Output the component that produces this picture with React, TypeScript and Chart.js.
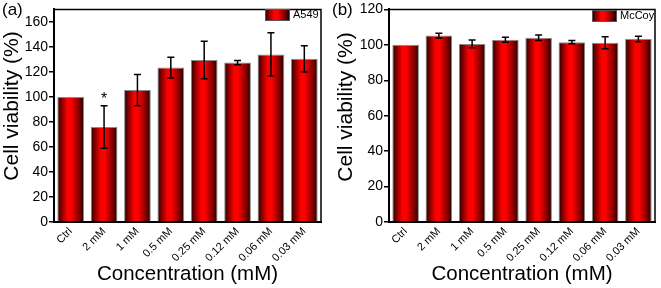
import React, { useEffect, useRef } from "react";
import { Chart, registerables } from "chart.js";

Chart.register(...registerables);

const categories = ["Ctrl", "2 mM", "1 mM", "0.5 mM", "0.25 mM", "0.12 mM", "0.06 mM", "0.03 mM"];

const a549Values = [100, 76, 105.5, 123.5, 129.5, 127.5, 134, 130.5];
const a549Errors = [0, 17, 12.5, 8.3, 15, 1.7, 17.3, 10.5];
const a549Marks = ["", "*", "", "", "", "", "", ""];

const mccoyValues = [100, 105.2, 100.5, 102.9, 104, 101.5, 101.2, 103.3];
const mccoyErrors = [0, 1.4, 2.2, 1.4, 1.6, 0.9, 3.4, 1.6];
const mccoyMarks = ["", "", "", "", "", "", "", ""];

const yTitle = "Cell viability (%)";
const xTitle = "Concentration (mM)";

const FONT = "'Liberation Sans', Arial, sans-serif";

function makeGradient(ctx: CanvasRenderingContext2D, x0: number, x1: number) {
  const g = ctx.createLinearGradient(x0, 0, x1, 0);
  g.addColorStop(0, "#1a0000");
  g.addColorStop(0.12, "#700000");
  g.addColorStop(0.38, "#ff0000");
  g.addColorStop(0.52, "#ff0000");
  g.addColorStop(0.82, "#800000");
  g.addColorStop(1, "#1a0000");
  return g;
}

type PanelProps = {
  width: number;
  height: number;
  values: number[];
  errors: number[];
  marks: string[];
  yMax: number;
  panelLabel: string;
  legendLabel: string;
  yAxisWidth: number;
  padRight: number;
  padTop: number;
  legendX: number;
  legendY: number;
  yTitleX: number;
  yTitleY: number;
};

function Panel(p: PanelProps) {
  const ref = useRef<HTMLCanvasElement | null>(null);
  useEffect(() => {
    const canvas = ref.current;
    if (!canvas) return;
    const extras = {
      id: "extras",
      beforeDatasetsDraw(chart: any) {
        const ctx = chart.ctx as CanvasRenderingContext2D;
        const meta = chart.getDatasetMeta(0);
        meta.data.forEach((bar: any) => {
          const w = bar.width;
          if (isFinite(bar.x) && isFinite(w)) {
            bar.options = Object.assign({}, bar.options, {
              backgroundColor: makeGradient(ctx, bar.x - w / 2, bar.x + w / 2),
            });
          }
        });
      },
      afterDatasetsDraw(chart: any) {
        const ctx = chart.ctx as CanvasRenderingContext2D;
        const ys = chart.scales.y;
        const meta = chart.getDatasetMeta(0);
        ctx.save();
        ctx.strokeStyle = "#000";
        ctx.lineWidth = 1.5;
        meta.data.forEach((bar: any, i: number) => {
          const e = p.errors[i];
          const v = p.values[i];
          const x = bar.x;
          if (e > 0) {
            const yt = ys.getPixelForValue(v + e);
            const yb = ys.getPixelForValue(v - e);
            ctx.beginPath();
            ctx.moveTo(x, yt);
            ctx.lineTo(x, yb);
            ctx.moveTo(x - 3.5, yt);
            ctx.lineTo(x + 3.5, yt);
            ctx.moveTo(x - 3.5, yb);
            ctx.lineTo(x + 3.5, yb);
            ctx.stroke();
          }
          if (p.marks[i]) {
            ctx.fillStyle = "#000";
            ctx.font = `16px ${FONT}`;
            ctx.textAlign = "center";
            ctx.textBaseline = "alphabetic";
            ctx.fillText(p.marks[i], x, ys.getPixelForValue(v + e) - 2);
          }
        });
        const ca = chart.chartArea;
        ctx.strokeStyle = "#000";
        ctx.lineWidth = 1.5;
        ctx.beginPath();
        ctx.moveTo(ca.left, ca.top);
        ctx.lineTo(ca.right, ca.top);
        ctx.lineTo(ca.right, ca.bottom);
        ctx.stroke();
        const lx = p.legendX;
        const ly = p.legendY;
        ctx.fillStyle = makeGradient(ctx, lx, lx + 24);
        ctx.fillRect(lx, ly, 24, 11);
        ctx.strokeStyle = "#555";
        ctx.lineWidth = 1;
        ctx.strokeRect(lx + 0.5, ly + 0.5, 24, 11);
        ctx.fillStyle = "#000";
        ctx.font = `11px ${FONT}`;
        ctx.textAlign = "left";
        ctx.textBaseline = "middle";
        ctx.fillText(p.legendLabel, lx + 28, ly + 6);
        ctx.font = `17px ${FONT}`;
        ctx.textBaseline = "top";
        ctx.fillText(p.panelLabel, 2, 2);
        // y axis title
        ctx.save();
        ctx.translate(p.yTitleX, p.yTitleY);
        ctx.rotate(-Math.PI / 2);
        ctx.font = `21px ${FONT}`;
        ctx.textAlign = "center";
        ctx.textBaseline = "alphabetic";
        ctx.fillText(yTitle, 0, 0);
        ctx.restore();
        ctx.restore();
      },
    };
    const chart = new Chart(canvas, {
      type: "bar",
      data: {
        labels: categories,
        datasets: [
          {
            label: p.legendLabel,
            data: p.values,
            backgroundColor: "#ff0000",
            borderColor: "#8a8a8a",
            borderWidth: 1,
            categoryPercentage: 1,
            barPercentage: 0.8,
          },
        ],
      },
      options: {
        animation: false,
        responsive: false,
        devicePixelRatio: 1,
        layout: { padding: { left: 0, right: p.padRight, top: p.padTop, bottom: 0 } },
        plugins: { legend: { display: false }, tooltip: { enabled: false } },
        scales: {
          x: {
            grid: { display: false, drawTicks: false },
            border: { display: true, color: "#000", width: 2 },
            ticks: {
              minRotation: 45,
              maxRotation: 45,
              padding: 3,
              color: "#000",
              font: { family: FONT, size: 11 },
              autoSkip: false,
            },
            title: {
              display: true,
              text: xTitle,
              color: "#000",
              font: { family: FONT, size: 20.5 },
              padding: { top: 0, bottom: 1 },
            },
            afterFit: (s: any) => {
              s.height = 66;
            },
          },
          y: {
            min: 0,
            max: p.yMax,
            grid: { drawOnChartArea: false, drawTicks: true, tickLength: 5, color: "#000", lineWidth: 1.5 },
            border: { display: true, color: "#000", width: 2 },
            ticks: {
              stepSize: 20,
              includeBounds: false,
              padding: 1,
              color: "#000",
              font: { family: FONT, size: 14 },
            },
            title: { display: false },
            afterFit: (s: any) => {
              s.width = p.yAxisWidth;
            },
          },
        },
      },
      plugins: [extras],
    } as any);
    return () => chart.destroy();
  }, []);
  return <canvas ref={ref} width={p.width} height={p.height} style={{ display: "block", width: p.width, height: p.height }} />;
}

export default function App() {
  return (
    <div style={{ position: "fixed", left: 0, top: 0, width: 661, height: 288, background: "#fff", display: "flex" }}>
      <Panel
        width={330}
        height={288}
        values={a549Values}
        errors={a549Errors}
        marks={a549Marks}
        yMax={170}
        panelLabel="(a)"
        legendLabel="A549"
        yAxisWidth={54}
        padRight={9}
        padTop={6}
        legendX={265}
        legendY={9}
        yTitleX={18}
        yTitleY={106}
      />
      <Panel
        width={331}
        height={288}
        values={mccoyValues}
        errors={mccoyErrors}
        marks={mccoyMarks}
        yMax={120}
        panelLabel="(b)"
        legendLabel="McCoy"
        yAxisWidth={59}
        padRight={6}
        padTop={7}
        legendX={262}
        legendY={10}
        yTitleX={22}
        yTitleY={107}
      />
    </div>
  );
}
